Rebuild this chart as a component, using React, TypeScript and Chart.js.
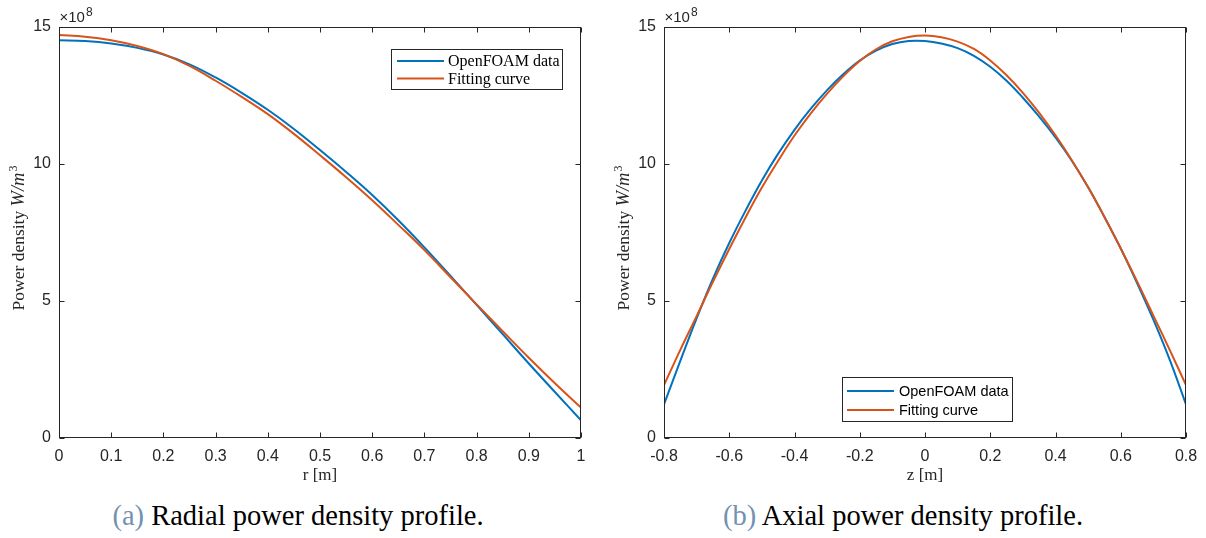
import React, { useEffect, useRef } from "react";
import { Chart, registerables } from "chart.js";

Chart.register(...registerables);

// ---------- data (values in units of 1e8 W/m^3) ----------
const radialR = [0, 0.05, 0.1, 0.15, 0.2, 0.25, 0.3, 0.35, 0.4, 0.45, 0.5, 0.55, 0.6, 0.65, 0.7, 0.75, 0.8, 0.85, 0.9, 0.95, 1.0];
const radialOpenFOAM = [14.5, 14.47, 14.38, 14.22, 13.98, 13.62, 13.14, 12.58, 11.96, 11.26, 10.49, 9.69, 8.85, 7.93, 6.94, 5.9, 4.84, 3.77, 2.7, 1.66, 0.63];
const radialFitting = [14.69, 14.63, 14.5, 14.29, 13.99, 13.56, 13.02, 12.43, 11.8, 11.08, 10.3, 9.5, 8.66, 7.76, 6.84, 5.85, 4.86, 3.88, 2.91, 1.98, 1.09];

const axialZ = [-0.8, -0.75, -0.7, -0.65, -0.6, -0.55, -0.5, -0.45, -0.4, -0.35, -0.3, -0.25, -0.2, -0.15, -0.1, -0.05, 0, 0.05, 0.1, 0.15, 0.2, 0.25, 0.3, 0.35, 0.4, 0.45, 0.5, 0.55, 0.6, 0.65, 0.7, 0.75, 0.8];
const axialOpenFOAM = [1.21, 2.8, 4.35, 5.8, 7.1, 8.28, 9.38, 10.36, 11.23, 12.0, 12.68, 13.27, 13.76, 14.12, 14.36, 14.47, 14.47, 14.38, 14.21, 13.93, 13.53, 13.02, 12.4, 11.71, 10.95, 10.1, 9.13, 8.05, 6.9, 5.64, 4.3, 2.84, 1.21];
const axialFitting = [1.91, 3.2, 4.43, 5.68, 6.88, 8.03, 9.12, 10.1, 11.02, 11.83, 12.55, 13.19, 13.74, 14.17, 14.46, 14.62, 14.67, 14.61, 14.45, 14.18, 13.76, 13.22, 12.58, 11.85, 11.03, 10.12, 9.13, 8.05, 6.9, 5.7, 4.45, 3.2, 1.91];

const radialXTicks = [0, 0.1, 0.2, 0.3, 0.4, 0.5, 0.6, 0.7, 0.8, 0.9, 1];
const axialXTicks = [-0.8, -0.6, -0.4, -0.2, 0, 0.2, 0.4, 0.6, 0.8];
const yTicks = [0, 5, 10, 15];

const seriesNames = ["OpenFOAM data", "Fitting curve"];
const xTitles = ["r [m]", "z [m]"];
const captionTags = ["(a)", "(b)"];
const captionTexts = ["Radial power density profile.", "Axial power density profile."];

// ---------- styling ----------
const BLUE = "#0072BD";
const ORANGE = "#D95319";
const AXIS = "#262626";
const CW = 605;
const CH = 490;
const AREA = { left: 59, right: 581, top: 26.5, bottom: 437.5 };

function fmt(v: number) {
  const s = (Math.round(v * 10) / 10).toString();
  return s === "-0" ? "0" : s;
}

type LegendCfg = { x: number; y: number; w: number; h: number; lineX0: number; lineX1: number; textX: number; rows: number[]; font: string };

function makeChart(canvas: HTMLCanvasElement, xs: number[], data: number[], fit: number[], xTicks: number[], xTitle: string, legend: LegendCfg) {
  const pts = (ys: number[]) => xs.map((x, i) => ({ x, y: ys[i] }));
  const plugin = {
    id: "matlabFrame",
    afterDatasetsDraw(chart: any) {
      const ctx = chart.ctx as CanvasRenderingContext2D;
      ctx.save();
      ctx.fillStyle = "#ffffff";
      ctx.fillRect(legend.x, legend.y, legend.w, legend.h);
      ctx.strokeStyle = AXIS;
      ctx.lineWidth = 1;
      ctx.strokeRect(legend.x + 0.5, legend.y + 0.5, legend.w, legend.h);
      const colors = [BLUE, ORANGE];
      ctx.font = legend.font;
      ctx.textBaseline = "middle";
      ctx.textAlign = "left";
      for (let i = 0; i < 2; i++) {
        ctx.strokeStyle = colors[i];
        ctx.lineWidth = 2;
        ctx.beginPath();
        ctx.moveTo(legend.lineX0, legend.rows[i]);
        ctx.lineTo(legend.lineX1, legend.rows[i]);
        ctx.stroke();
        ctx.fillStyle = "#000000";
        ctx.fillText(seriesNames[i], legend.textX, legend.rows[i] + 1);
      }
      ctx.restore();
    },
    afterDraw(chart: any) {
      const ctx = chart.ctx as CanvasRenderingContext2D;
      const a = chart.chartArea;
      const sx = chart.scales.x;
      const sy = chart.scales.y;
      ctx.save();
      ctx.strokeStyle = AXIS;
      ctx.lineWidth = 1;
      const L = Math.round(a.left) + 0.5;
      const R = Math.round(a.right) - 0.5;
      const T = Math.round(a.top) + 0.5;
      const B = Math.round(a.bottom) - 0.5;
      ctx.strokeRect(L, T, R - L, B - T);
      ctx.beginPath();
      for (const v of xTicks) {
        const p = Math.round(sx.getPixelForValue(v)) + 0.5;
        ctx.moveTo(p, B); ctx.lineTo(p, B - 5);
        ctx.moveTo(p, T); ctx.lineTo(p, T + 5);
      }
      for (const v of yTicks) {
        const p = Math.round(sy.getPixelForValue(v)) + 0.5;
        ctx.moveTo(L, p); ctx.lineTo(L + 5, p);
        ctx.moveTo(R, p); ctx.lineTo(R - 5, p);
      }
      ctx.stroke();

      // exponent label
      ctx.fillStyle = AXIS;
      ctx.textAlign = "left";
      ctx.textBaseline = "alphabetic";
      ctx.font = "15px 'Liberation Sans', Arial, sans-serif";
      ctx.fillText("\u00d710", a.left + 0.5, a.top - 4.5);
      const w = ctx.measureText("\u00d710").width;
      ctx.font = "12px 'Liberation Sans', Arial, sans-serif";
      ctx.fillText("8", a.left + 0.5 + w + 1, a.top - 11);

      // x title
      ctx.fillStyle = "#262626";
      ctx.font = "17px 'Liberation Serif', 'DejaVu Serif', serif";
      ctx.textAlign = "center";
      ctx.fillText(xTitle, (a.left + a.right) / 2, a.bottom + 42.5);

      // y title (rotated, mixed fonts)
      const parts: [string, string, number][] = [
        ["Power density ", "17.5px 'Liberation Serif', serif", 0],
        ["W/m", "italic 18.5px 'Liberation Serif', serif", 0],
        ["3", "12px 'Liberation Serif', serif", -7],
      ];
      let total = 0;
      const widths: number[] = [];
      for (const [t, f] of parts) {
        ctx.font = f;
        const ww = ctx.measureText(t).width;
        widths.push(ww);
        total += ww;
      }
      total += 1;
      ctx.translate(24, (a.top + a.bottom) / 2 + 6);
      ctx.rotate(-Math.PI / 2);
      ctx.textAlign = "left";
      let x = -total / 2;
      parts.forEach(([t, f, dy], i) => {
        ctx.font = f;
        ctx.fillText(t, x, dy);
        x += widths[i] + (i === 1 ? 1 : 0);
      });
      ctx.restore();
    },
  };

  return new Chart(canvas, {
    type: "line",
    data: {
      datasets: [
        { label: seriesNames[0], data: pts(data), borderColor: BLUE, backgroundColor: BLUE, borderWidth: 2, pointRadius: 0, tension: 0.4, order: 1 },
        { label: seriesNames[1], data: pts(fit), borderColor: ORANGE, backgroundColor: ORANGE, borderWidth: 2, pointRadius: 0, tension: 0.4, order: 0 },
      ],
    },
    options: {
      responsive: false,
      animation: false,
      devicePixelRatio: 1,
      events: [],
      layout: { padding: { top: AREA.top, right: CW - AREA.right, left: 0, bottom: 0 } },
      plugins: { legend: { display: false }, tooltip: { enabled: false }, title: { display: false } },
      scales: {
        x: {
          type: "linear",
          min: xTicks[0],
          max: xTicks[xTicks.length - 1],
          grid: { display: false, drawTicks: false, tickLength: 0 },
          border: { display: false },
          afterBuildTicks: (s: any) => { s.ticks = xTicks.map((v) => ({ value: v })); },
          afterFit: (s: any) => { s.height = CH - AREA.bottom; },
          ticks: {
            autoSkip: false,
            maxRotation: 0,
            padding: 9,
            color: AXIS,
            font: { family: "'Liberation Sans', Arial, sans-serif", size: 16 },
            callback: (v: any) => fmt(Number(v)),
          },
        },
        y: {
          type: "linear",
          min: 0,
          max: 15,
          grid: { display: false, drawTicks: false, tickLength: 0 },
          border: { display: false },
          afterBuildTicks: (s: any) => { s.ticks = yTicks.map((v) => ({ value: v })); },
          afterFit: (s: any) => { s.width = AREA.left; },
          ticks: {
            autoSkip: false,
            padding: 8,
            color: AXIS,
            font: { family: "'Liberation Sans', Arial, sans-serif", size: 16 },
            callback: (v: any) => fmt(Number(v)),
          },
        },
      },
    },
    plugins: [plugin],
  } as any);
}

export default function App() {
  const leftRef = useRef<HTMLCanvasElement>(null);
  const rightRef = useRef<HTMLCanvasElement>(null);

  useEffect(() => {
    const c1 = makeChart(leftRef.current!, radialR, radialOpenFOAM, radialFitting, radialXTicks, xTitles[0], {
      x: 391, y: 49, w: 171, h: 40, lineX0: 397, lineX1: 444, textX: 448, rows: [61, 78.5],
      font: "16px 'Liberation Serif', 'DejaVu Serif', serif",
    });
    const c2 = makeChart(rightRef.current!, axialZ, axialOpenFOAM, axialFitting, axialXTicks, xTitles[1], {
      x: 237, y: 377, w: 170, h: 44, lineX0: 242, lineX1: 289, textX: 294, rows: [391, 410],
      font: "14.5px 'Liberation Sans', Arial, sans-serif",
    });
    return () => { c1.destroy(); c2.destroy(); };
  }, []);

  const capStyle = (left: number, width: number): React.CSSProperties => ({
    position: "absolute", left, top: 502, width, textAlign: "center",
    fontFamily: "'Liberation Serif', 'DejaVu Serif', serif", fontSize: "28.5px", lineHeight: "28.5px",
    color: "#000", whiteSpace: "nowrap",
  });

  return (
    <div style={{ position: "absolute", left: 0, top: 0, width: 1206, height: 538, background: "#fff", overflow: "hidden" }}>
      <canvas ref={leftRef} width={CW} height={CH} style={{ position: "absolute", left: 0, top: 0, width: CW, height: CH }} />
      <canvas ref={rightRef} width={CW} height={CH} style={{ position: "absolute", left: 605, top: 0, width: CW, height: CH }} />
      <div style={capStyle(0, 596)}>
        <span style={{ color: "#7391b0" }}>{captionTags[0]}</span> {captionTexts[0]}
      </div>
      <div style={capStyle(603, 600)}>
        <span style={{ color: "#7391b0" }}>{captionTags[1]}</span> {captionTexts[1]}
      </div>
    </div>
  );
}
